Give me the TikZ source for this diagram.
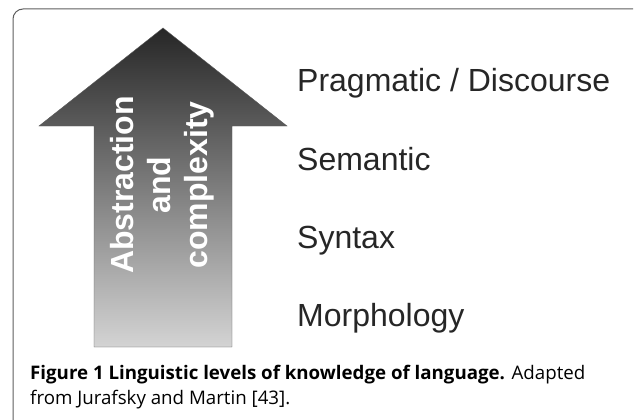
\documentclass[tikz,border=0pt]{standalone}
\usepackage{fontspec}
\setmainfont{Liberation Sans}
\newfontfamily\captionfont{Open Sans}
\definecolor{framegray}{HTML}{5E5E5E}
\definecolor{labelgray}{HTML}{262626}
\tikzset{
  levellabel/.style = {anchor = base west, inner sep = 0, text = labelgray,
                       font = \fontsize{32}{36}\selectfont},
  captionline/.style = {anchor = base west, inner sep = 0,
                        font = \captionfont\fontsize{18.7}{22}\selectfont}
}
\begin{document}
\begin{tikzpicture}[x = 1pt, y = -1pt]
                \useasboundingbox (0,0) rectangle (635,420);
                % frame
                \draw [framegray, line width = 1pt, rounded corners = 10pt] (13,420) -- (13,9) -- (633,9);
                % arrow
                \shadedraw [top color = black!85, bottom color = black!17, draw = black!65, thin]
                    (163,28) -- (287,126) -- (232,126) -- (232,347)
                    -- (94,347) -- (94,126) -- (39,126) -- cycle;
                \node (arrowtext) [rotate = 90, align = center, inner sep = 0, text = white,
                    font = \fontsize{32}{37}\selectfont\bfseries] at (162,185)
                    {Abstraction\\and\\complexity};
                % levels
                \node (pragmatic)  [levellabel] at (297,92)  {Pragmatic / Discourse};
                \node (semantic)   [levellabel] at (297,170) {Semantic};
                \node (syntax)     [levellabel] at (297,248) {Syntax};
                \node (morphology) [levellabel] at (297,326) {Morphology};
                % caption
                \node (captionone) [captionline] at (30,379)
                    {\textbf{Figure 1 Linguistic levels of knowledge of language.} Adapted};
                \node (captiontwo) [captionline] at (30,404) {from Jurafsky and Martin [43].};
            \end{tikzpicture}
\end{document}
